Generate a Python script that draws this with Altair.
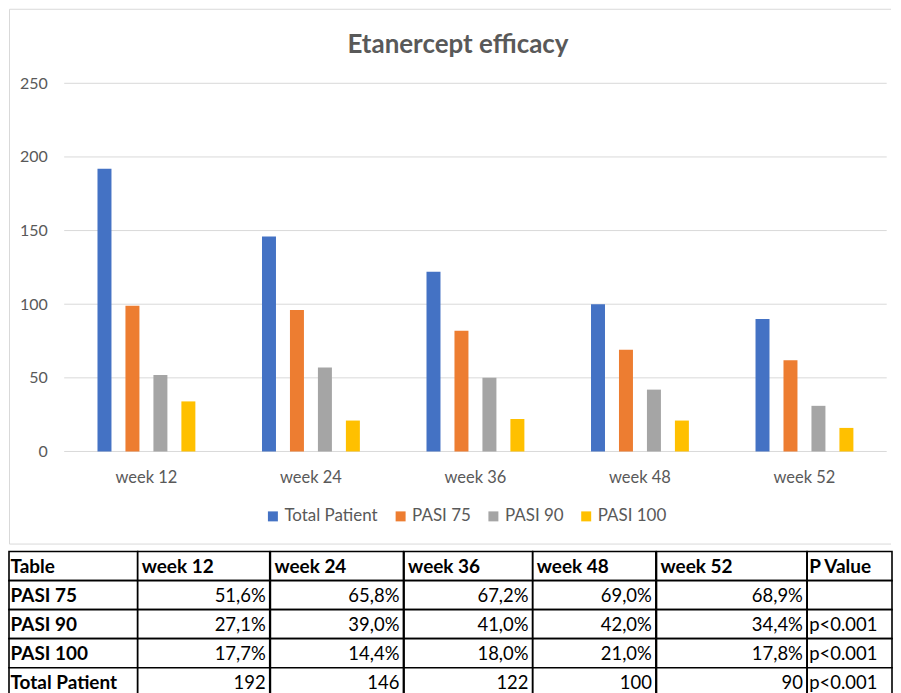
import altair as alt
import pandas as pd

# ---------------- data ----------------
weeks = ["week 12", "week 24", "week 36", "week 48", "week 52"]
series = ["Total Patient", "PASI 75", "PASI 90", "PASI 100"]
total_patient = [192, 146, 122, 100, 90]
pasi75 = [99, 96, 82, 69, 62]
pasi90 = [52, 57, 50, 42, 31]
pasi100 = [34, 21, 22, 21, 16]
y_ticks = [0, 50, 100, 150, 200, 250]

pct75 = ["51,6%", "65,8%", "67,2%", "69,0%", "68,9%"]
pct90 = ["27,1%", "39,0%", "41,0%", "42,0%", "34,4%"]
pct100 = ["17,7%", "14,4%", "18,0%", "21,0%", "17,8%"]
p_values = ["", "p<0.001", "p<0.001", "p<0.001"]
row_labels = ["Table", "PASI 75", "PASI 90", "PASI 100", "Total Patient"]
p_header = "P Value"
title_text = "Etanercept efficacy"

colors = ["#4472C4", "#ED7D31", "#A5A5A5", "#FFC000"]
FONT = "Lato"
GREY_TXT = "#595959"
GRID = "#D9D9D9"

# ---------------- layout (chart area = whole frame) ----------------
FW, FH = 884, 537            # chart-area (frame) size
PX0, PX1 = 55.3, 879.7       # plot region inside the frame
PY0, PY1 = 443.7, 74.7       # y pixel of 0 and of 250

rows = []
for i, w in enumerate(weeks):
    for s, vals in zip(series, [total_patient, pasi75, pasi90, pasi100]):
        rows.append({"week": w, "series": s, "value": vals[i]})
bars_df = pd.DataFrame(rows)

yscale = alt.Scale(domain=[0, 250], nice=False, range=[PY0, PY1])
no_view = alt.ViewBackground(stroke="transparent", strokeOpacity=0, strokeWidth=0)

grid = alt.Chart(pd.DataFrame({"value": y_ticks})).mark_rule(
    color=GRID, strokeWidth=1).encode(
    y=alt.Y("value:Q", scale=yscale, title=None,
            axis=alt.Axis(values=y_ticks, ticks=False, domain=False, grid=False,
                          labelPadding=17, labelFontSize=16, offset=-PX0,
                          labelColor=GREY_TXT, labelFont=FONT)),
    x=alt.value(PX0), x2=alt.value(PX1))

bars = alt.Chart(bars_df).mark_bar().encode(
    x=alt.X("week:N", sort=weeks, title=None,
            scale=alt.Scale(paddingInner=0.32, paddingOuter=0.16, range=[PX0, PX1]),
            axis=alt.Axis(labelAngle=0, ticks=False, domain=False,
                          labelPadding=18, labelFontSize=16.5, labelColor=GREY_TXT,
                          labelFont=FONT, grid=False, offset=-(FH - PY0))),
    xOffset=alt.XOffset("series:N", sort=series,
                        scale=alt.Scale(paddingInner=0.5, paddingOuter=0.25)),
    y=alt.Y("value:Q", scale=yscale, title=None,
            axis=alt.Axis(values=y_ticks, ticks=False, domain=False, grid=False,
                          labelPadding=17, labelFontSize=16, offset=-PX0,
                          labelColor=GREY_TXT, labelFont=FONT)),
    color=alt.Color("series:N", sort=series,
                    scale=alt.Scale(domain=series, range=colors),
                    legend=alt.Legend(orient="none", legendX=256, legendY=500,
                                      direction="horizontal", title=None,
                                      symbolType="square", symbolSize=100,
                                      symbolStrokeWidth=0, labelFontSize=17,
                                      labelColor=GREY_TXT, labelFont=FONT,
                                      columnPadding=14, labelOffset=3)),
)

one = pd.DataFrame({"k": [0]})
frame_top = alt.Chart(one).mark_rule(color=GRID, strokeWidth=1).encode(
    x=alt.value(0.5), x2=alt.value(FW), y=alt.value(0.5))
frame_bottom = alt.Chart(one).mark_rule(color=GRID, strokeWidth=1).encode(
    x=alt.value(0.5), x2=alt.value(FW), y=alt.value(FH - 0.5))
frame_left = alt.Chart(one).mark_rule(color=GRID, strokeWidth=1).encode(
    x=alt.value(0.5), y=alt.value(0.5), y2=alt.value(FH - 0.5))
title = alt.Chart(one).mark_text(
    text=title_text, font=FONT, fontSize=26, fontWeight="bold",
    color=GREY_TXT, align="center", baseline="alphabetic").encode(
    x=alt.value(450), y=alt.value(44))

top = alt.layer(frame_top, frame_bottom, frame_left, grid, title, bars).properties(
    width=FW, height=FH, view=no_view)

# ---------------- table ----------------
ROW_H = 29.1
col_widths = [128.9, 132.3, 133.3, 128.7, 123.3, 150.7, 85]

columns = [row_labels]
for i, w in enumerate(weeks):
    columns.append([w, pct75[i], pct90[i], pct100[i], str(total_patient[i])])
columns.append([p_header] + p_values)


def make_panel(cells, width, kind):
    df = pd.DataFrame({"row": row_labels, "text": cells,
                       "is_head": [True] + [False] * 4})
    base = alt.Chart(df).encode(
        y=alt.Y("row:N", sort=row_labels, axis=None,
                scale=alt.Scale(paddingInner=0, paddingOuter=0)))
    rect = base.mark_rect(fill="white", stroke="black", strokeWidth=1.6)
    pad = 1.5 if kind == "first" else 4
    head = base.transform_filter("datum.is_head").mark_text(
        font=FONT, fontSize=19, fontWeight="bold", color="black",
        align="left", baseline="middle", dy=1).encode(
        text="text:N", x=alt.value(pad if kind != "p" else 2))
    if kind == "first":
        body = base.transform_filter("!datum.is_head").mark_text(
            font=FONT, fontSize=19, fontWeight="bold", color="black",
            align="left", baseline="middle", dy=1).encode(
            text="text:N", x=alt.value(pad))
    elif kind == "p":
        body = base.transform_filter("!datum.is_head").mark_text(
            font=FONT, fontSize=18.5, color="black",
            align="left", baseline="middle", dy=1).encode(
            text="text:N", x=alt.value(2))
    else:
        body = base.transform_filter("!datum.is_head").mark_text(
            font=FONT, fontSize=18.5, color="black",
            align="right", baseline="middle", dy=1).encode(
            text="text:N", x=alt.value(width - 4))
    return alt.layer(rect, head, body).properties(
        width=width, height=ROW_H * 5, view=no_view)


panels = []
for j, cells in enumerate(columns):
    kind = "first" if j == 0 else ("p" if j == len(columns) - 1 else "val")
    panels.append(make_panel(cells, col_widths[j], kind))

table = alt.hconcat(*panels, spacing=0, bounds="flush")

chart = alt.vconcat(top, table, spacing=6).properties(
    padding=0, background="white"
).configure(
    font=FONT,
    view=alt.ViewConfig(stroke="transparent", strokeWidth=0),
    style={"cell": {"stroke": "transparent", "strokeWidth": 0}},
)

chart.save("out.html", embed_options={"renderer": "svg", "actions": False})
